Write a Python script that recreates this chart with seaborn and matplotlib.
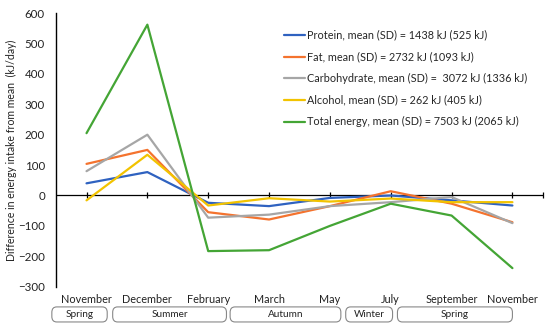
import numpy as np
import pandas as pd
import seaborn as sns
from matplotlib import pyplot as plt
from matplotlib.patches import FancyBboxPatch
import matplotlib.transforms as mtransforms

months = ['November', 'December', 'February', 'March', 'May', 'July', 'September', 'November']
seasons = ['Spring', 'Summer', 'Autumn', 'Winter', 'Spring']
season_spans = [(-0.57, 0.34), (0.43, 2.30), (2.36, 4.18), (4.26, 5.03), (5.11, 7.0)]

protein = [40, 77, -24, -35, -8, 0, -16, -33]
fat = [104, 150, -55, -79, -35, 14, -27, -88]
carbohydrate = [80, 200, -73, -63, -35, -22, -5, -91]
alcohol = [-16, 134, -33, -9, -20, -10, -22, -22]
total_energy = [205, 562, -183, -180, -100, -27, -66, -239]

labels = [
    'Protein, mean (SD) = 1438 kJ (525 kJ)',
    'Fat, mean (SD) = 2732 kJ (1093 kJ)',
    'Carbohydrate, mean (SD) =  3072 kJ (1336 kJ)',
    'Alcohol, mean (SD) = 262 kJ (405 kJ)',
    'Total energy, mean (SD) = 7503 kJ (2065 kJ)',
]
colors = ['#2F62C0', '#F4732E', '#A6A6A6', '#F2C300', '#44A535']

series = [protein, fat, carbohydrate, alcohol, total_energy]
df = pd.concat([
    pd.DataFrame({'pos': np.arange(len(months)), 'value': vals, 'series': lab})
    for lab, vals in zip(labels, series)
])

sns.set_style('white')
plt.rcParams['font.family'] = ['Lato', 'DejaVu Sans']

fig = plt.figure(figsize=(5.5, 3.28), dpi=100)
ax = fig.add_axes([0.102, 0.126, 0.885, 0.834])

sns.lineplot(data=df, x='pos', y='value', hue='series', palette=colors,
             linewidth=1.6, sort=False, ax=ax)

ax.set_xlim(-0.5, 7.5)
ax.set_ylim(-300, 600)
ax.set_yticks(range(-300, 601, 100))
ax.set_yticklabels([f'\u2212{abs(v)}' if v < 0 else str(v) for v in range(-300, 601, 100)])
ax.set_xticks(range(len(months)))
ax.set_xticklabels(months)
ax.tick_params(axis='x', length=0, pad=5, labelsize=7.8, colors='#222222')
ax.tick_params(axis='y', length=0, pad=8, labelsize=8.3, colors='#222222')

for s in ['top', 'right', 'bottom']:
    ax.spines[s].set_visible(False)
ax.spines['left'].set_color('black')
ax.spines['left'].set_linewidth(1.0)

# zero line with category ticks
ax.axhline(0, color='black', linewidth=0.9, zorder=1)
ax.scatter(list(range(len(months))) + [7.5], [0] * (len(months) + 1), marker='|',
           s=25, color='black', linewidths=0.9, zorder=1, clip_on=False)

ax.set_xlabel('')
ax.set_ylabel('Difference in energy intake from mean  (kJ/day)', fontsize=7.6,
              color='#222222')
ax.yaxis.set_label_coords(-0.080, 0.5)

# season boxes below month labels
trans = mtransforms.blended_transform_factory(ax.transData, ax.transAxes)
for name, (x0, x1) in zip(seasons, season_spans):
    box = FancyBboxPatch((x0, -0.129), x1 - x0, 0.055,
                         boxstyle='round,pad=0,rounding_size=0.08',
                         mutation_aspect=0.25,
                         transform=trans, clip_on=False,
                         facecolor='white', edgecolor='#888888', linewidth=0.8)
    ax.add_patch(box)
    ax.text((x0 + x1) / 2, -0.101, name, transform=trans, ha='center', va='center',
            fontsize=7.2, color='#222222')

ax.legend(loc='upper left', bbox_to_anchor=(0.46, 0.955), frameon=False,
          fontsize=7.8, handlelength=1.9, handletextpad=0.2, labelspacing=0.98,
          borderaxespad=0)

fig.savefig('out.png', dpi=100)
